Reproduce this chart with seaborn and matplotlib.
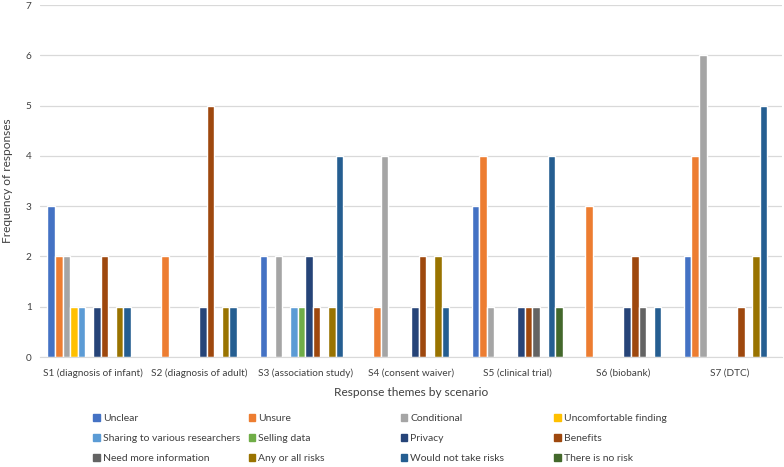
import pandas as pd
import matplotlib.pyplot as plt
import seaborn as sns

scenarios = ['S1 (diagnosis of infant)', 'S2 (diagnosis of adult)', 'S3 (association study)',
             'S4 (consent waiver)', 'S5 (clinical trial)', 'S6 (biobank)', 'S7 (DTC)']
themes = ['Unclear', 'Unsure', 'Conditional', 'Uncomfortable finding',
          'Sharing to various researchers', 'Selling data', 'Privacy', 'Benefits',
          'Need more information', 'Any or all risks', 'Would not take risks', 'There is no risk']

# counts per theme, one value per scenario S1..S7
unclear = [3, 0, 2, 0, 3, 0, 2]
unsure = [2, 2, 0, 1, 4, 3, 4]
conditional = [2, 0, 2, 4, 1, 0, 6]
uncomfortable = [1, 0, 0, 0, 0, 0, 0]
sharing = [1, 0, 1, 0, 0, 0, 0]
selling = [0, 0, 1, 0, 0, 0, 0]
privacy = [1, 1, 2, 1, 1, 1, 0]
benefits = [2, 5, 1, 2, 1, 2, 1]
need_more = [0, 0, 0, 0, 1, 1, 0]
any_risks = [1, 1, 1, 2, 0, 0, 2]
would_not = [1, 1, 4, 1, 4, 1, 5]
no_risk = [0, 0, 0, 0, 1, 0, 0]

colors = ['#4472C4', '#ED7D31', '#A5A5A5', '#FFC000', '#5B9BD5', '#70AD47',
          '#264478', '#9E480E', '#636363', '#997300', '#255E91', '#43682B']

series = [unclear, unsure, conditional, uncomfortable, sharing, selling,
          privacy, benefits, need_more, any_risks, would_not, no_risk]
rows = []
for theme, vals in zip(themes, series):
    for sc, v in zip(scenarios, vals):
        rows.append({'Scenario': sc, 'Theme': theme, 'Count': v})
df = pd.DataFrame(rows)

sns.set_style('white')
plt.rcParams['font.family'] = ['Lato', 'DejaVu Sans']

fig = plt.figure(figsize=(7.84, 4.67), dpi=100)
ax = fig.add_axes([0.051, 0.2355, 0.947, 0.7535])

sns.barplot(data=df, x='Scenario', y='Count', hue='Theme', hue_order=themes,
            palette=colors, width=0.86, ax=ax, saturation=1, legend=False)

ax.set_ylim(0, 7)
ax.set_xlim(-0.5, 6.5)
ax.set_yticks(range(0, 8))
ax.yaxis.grid(True, color='#d9d9d9', linewidth=0.9)
ax.set_axisbelow(True)
for s in ['top', 'right', 'left']:
    ax.spines[s].set_visible(False)
ax.spines['bottom'].set_color('#d9d9d9')
ax.tick_params(axis='x', length=0, labelsize=7.2, colors='#404040', pad=8)
ax.tick_params(axis='y', length=0, labelsize=7.2, colors='#404040', pad=6)
ax.set_xlabel('Response themes by scenario', fontsize=8.6, color='#404040', labelpad=7)
ax.set_ylabel('Frequency of responses', fontsize=8.6, color='#404040', labelpad=9)

# legend as four fixed-width columns, like the original
col_x = [0.119, 0.317, 0.511, 0.707]
for j in range(4):
    idx = [j, j + 4, j + 8]
    handles = [plt.Rectangle((0, 0), 1, 1, color=colors[i]) for i in idx]
    fig.legend(handles, [themes[i] for i in idx], loc='upper left',
               bbox_to_anchor=(col_x[j], 0.113), ncol=1, frameon=False,
               fontsize=7.5, handlelength=0.62, handleheight=0.62, handletextpad=0.3,
               labelspacing=1.05, borderaxespad=0, borderpad=0, labelcolor='#404040')

fig.savefig('out.png', dpi=100)
